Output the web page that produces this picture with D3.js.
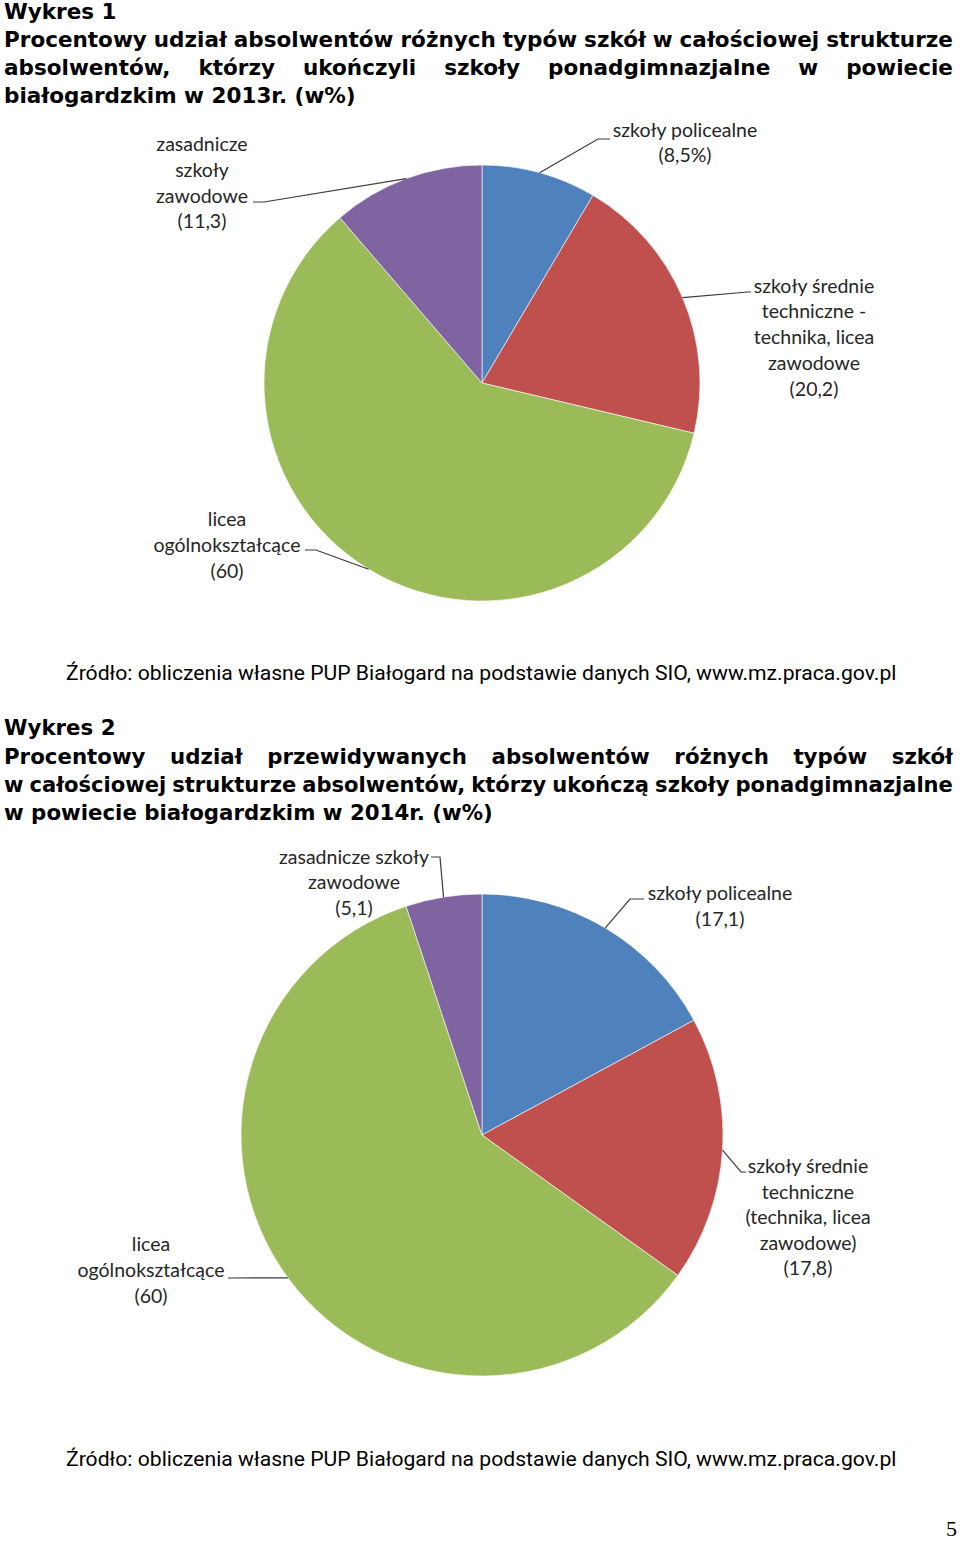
<!DOCTYPE html>
<html>
<head>
<meta charset="utf-8">
<script src="https://cdn.jsdelivr.net/npm/d3@7/dist/d3.min.js"></script>
<style>
  html, body { margin: 0; padding: 0; background: #fff; }
  svg { display: block; }
</style>
</head>
<body>
<script>
// ---------- DATA ----------
const categories = ["szkoły policealne", "szkoły średnie techniczne", "licea ogólnokształcące", "zasadnicze szkoły zawodowe"];
const values2013 = [8.5, 20.2, 60, 11.3];
const values2014 = [17.1, 17.8, 60, 5.1];
const colors = ["#4F81BD", "#C0504D", "#9BBB59", "#8064A2"];
const labels2013 = [
  ["szkoły policealne", "(8,5%)"],
  ["szkoły średnie", "techniczne -", "technika, licea", "zawodowe", "(20,2)"],
  ["licea", "ogólnokształcące", "(60)"],
  ["zasadnicze", "szkoły", "zawodowe", "(11,3)"]
];
const labels2014 = [
  ["szkoły policealne", "(17,1)"],
  ["szkoły średnie", "techniczne", "(technika, licea", "zawodowe)", "(17,8)"],
  ["licea", "ogólnokształcące", "(60)"],
  ["zasadnicze szkoły", "zawodowe", "(5,1)"]
];
const title1 = ["Wykres 1",
  "Procentowy udział absolwentów różnych typów szkół w całościowej strukturze",
  "absolwentów, którzy ukończyli szkoły ponadgimnazjalne w powiecie",
  "białogardzkim w 2013r. (w%)"];
const title2 = ["Wykres 2",
  "Procentowy udział przewidywanych absolwentów różnych typów szkół",
  "w całościowej strukturze absolwentów, którzy ukończą szkoły ponadgimnazjalne",
  "w powiecie białogardzkim w 2014r. (w%)"];
const sourceText = "Źródło: obliczenia własne PUP Białogard na podstawie danych SIO, www.mz.praca.gov.pl";
const pageNumber = "5";

// ---------- LAYOUT ----------
const W = 960, H = 1543;
const RIGHT = 953;
const svg = d3.select("body").append("svg").attr("width", W).attr("height", H);

// horizontally scaled text via transform (keeps real bounding boxes)
function scaledText(parent, str, x, y, s) {
  return parent.append("text")
    .attr("transform", `translate(${x},${y}) scale(${s},1)`)
    .text(str);
}

function drawTitle(lines, baselines, justify, lastTarget) {
  const g = svg.append("g")
    .style("font-family", "'DejaVu Sans', Verdana, sans-serif")
    .style("font-weight", "bold").style("font-size", "22px").attr("fill", "#000");
  const probe = g.append("text").text(lines[lines.length - 1]);
  const sx = Math.min(1, (lastTarget - 4) / probe.node().getComputedTextLength());
  probe.remove();
  lines.forEach((line, i) => {
    if (!justify[i]) {
      scaledText(g, line, 4, baselines[i], sx);
    } else {
      const words = line.split(" ");
      const nat = words.map(w => {
        const p = g.append("text").text(w);
        const l = p.node().getComputedTextLength();
        p.remove();
        return l;
      });
      let s = sx;
      const minGap = 6;
      const avail = RIGHT - 4;
      let total = d3.sum(nat) * s;
      if (total + minGap * (words.length - 1) > avail) {
        s = (avail - minGap * (words.length - 1)) / d3.sum(nat);
        total = d3.sum(nat) * s;
      }
      const gap = (avail - total) / (words.length - 1);
      let x = 4;
      words.forEach((w, j) => {
        scaledText(g, w, x, baselines[i], s);
        x += nat[j] * s + gap;
      });
    }
  });
}

drawTitle(title1, [19, 47, 75, 103], [false, true, true, false], 356);
drawTitle(title2, [735, 764, 792, 820], [false, true, true, false], 493);

function drawPie(cfg) {
  const g = svg.append("g").attr("transform", `translate(${cfg.cx},${cfg.cy})`);
  const pie = d3.pie().sort(null).value(d => d)(cfg.values);
  const arc = d3.arc().innerRadius(0).outerRadius(cfg.r);
  g.selectAll("path.slice").data(pie).join("path")
    .attr("class", "slice")
    .attr("d", arc)
    .attr("fill", (d, i) => colors[i])
    .attr("stroke", "#fff").attr("stroke-width", 0.6);

  pie.forEach((d, i) => {
    const a = (d.startAngle + d.endAngle) / 2;
    const p0 = [cfg.cx + cfg.r * Math.sin(a), cfg.cy - cfg.r * Math.cos(a)];
    const pts = [p0].concat(cfg.leaders[i]);
    svg.append("path")
      .attr("d", d3.line()(pts))
      .attr("fill", "none").attr("stroke", "#3a3a3a").attr("stroke-width", 1.2);
  });

  cfg.labels.forEach((lines, i) => {
    const pos = cfg.labelPos[i];
    const t = svg.append("text")
      .attr("text-anchor", "middle")
      .style("font-family", "Lato, 'Open Sans', sans-serif")
      .style("font-size", "19.5px")
      .attr("fill", "#262626");
    lines.forEach((ln, k) => {
      t.append("tspan").attr("x", pos.x).attr("y", pos.ys[k]).attr("dy", "0.35em").text(ln);
    });
  });
}

drawPie({
  cx: 482, cy: 383, r: 218,
  values: values2013,
  labels: labels2013,
  leaders: [
    [[598, 139], [610, 139]],
    [[748, 292], [751, 292]],
    [[316, 550], [305, 550]],
    [[264, 202], [253, 202]]
  ],
  labelPos: [
    { x: 685, ys: [130, 155] },
    { x: 814, ys: [286, 311, 337, 363, 389] },
    { x: 227, ys: [519, 545, 571] },
    { x: 202, ys: [144, 170, 196, 221] }
  ]
});

drawPie({
  cx: 482, cy: 1135, r: 241,
  values: values2014,
  labels: labels2014,
  leaders: [
    [[630, 899], [644, 899]],
    [[741, 1172], [746, 1172]],
    [[228, 1278]],
    [[440, 857], [431, 857]]
  ],
  labelPos: [
    { x: 720, ys: [893, 919] },
    { x: 808, ys: [1166, 1192, 1217, 1243, 1268] },
    { x: 151, ys: [1244, 1270, 1296] },
    { x: 354, ys: [857, 882, 908] }
  ]
});

const srcG = svg.append("g")
  .style("font-family", "Roboto, 'Open Sans', sans-serif")
  .style("font-size", "21px").attr("fill", "#000");
const srcProbe = srcG.append("text").text(sourceText);
const srcScale = 831 / srcProbe.node().getComputedTextLength();
srcProbe.remove();
[680, 1466].forEach(y => scaledText(srcG, sourceText, 66, y, srcScale));

svg.append("text").attr("x", 946).attr("y", 1536)
  .style("font-family", "'Liberation Serif', serif")
  .style("font-size", "22px").attr("fill", "#000")
  .text(pageNumber);
</script>
</body>
</html>
